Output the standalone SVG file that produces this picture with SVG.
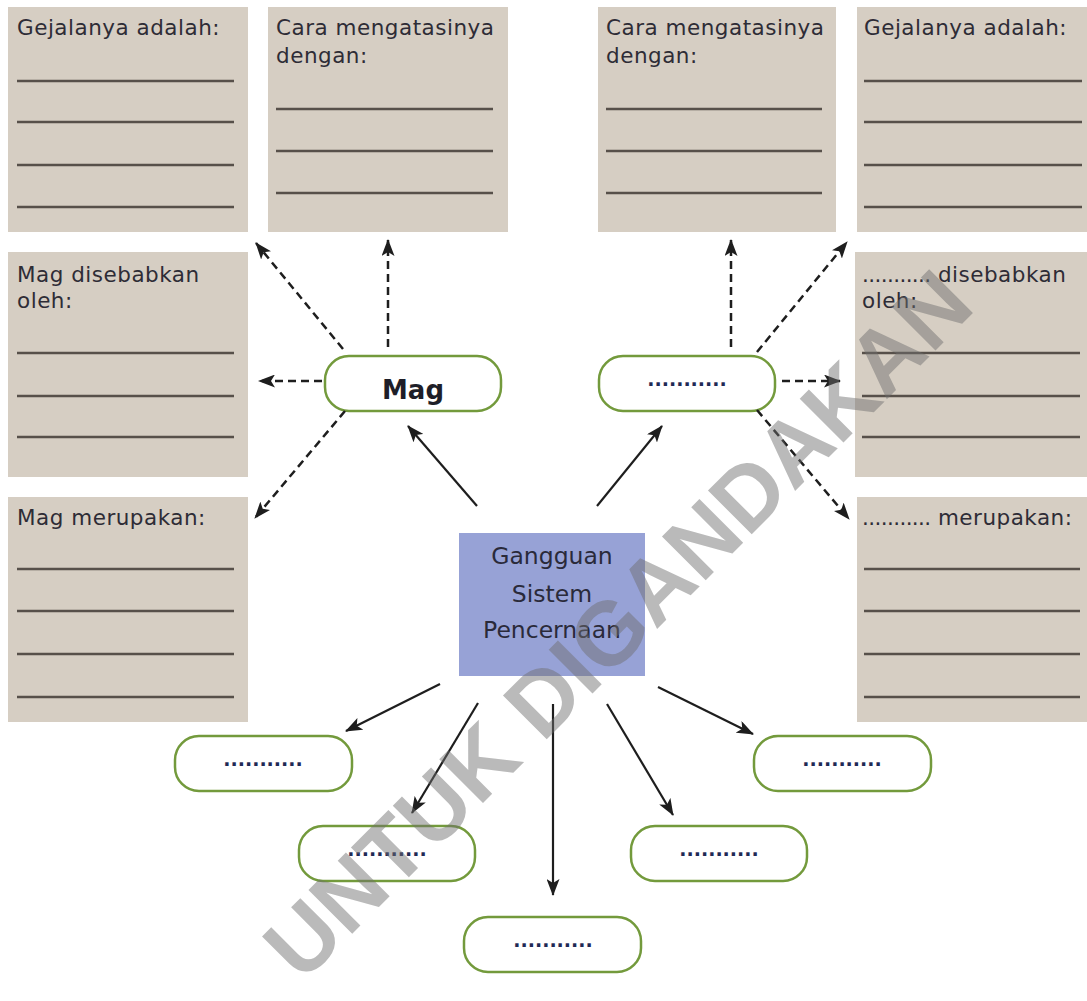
<svg xmlns="http://www.w3.org/2000/svg" width="1087" height="1001" viewBox="0 0 1087 1001">
<defs>
<style>
.box{fill:#d6cec3}
.ln{stroke:#57504a;stroke-width:2.5}
.t{font-family:"DejaVu Sans",Verdana,sans-serif;font-size:21.5px;letter-spacing:0.5px;fill:#2e2c36}
.d{letter-spacing:-0.6px}
.pill{fill:#ffffff;stroke:#739a3c;stroke-width:2.5}
.dots{font-family:"DejaVu Sans",sans-serif;font-weight:bold;font-size:19px;fill:#1f2a55;text-anchor:middle}
.dash{stroke:#1e1e1e;stroke-width:2.5;stroke-dasharray:8 5;fill:none;marker-end:url(#ah)}
.sol{stroke:#1e1e1e;stroke-width:2.2;fill:none;marker-end:url(#ah)}
.ctr{font-family:"DejaVu Sans",sans-serif;font-size:23.5px;fill:#2a2a3a;text-anchor:middle}
.wm{font-family:"Liberation Sans",Arial,sans-serif;font-weight:bold;font-size:90px;fill:#6e6e6e;fill-opacity:0.48}
</style>
<marker id="ah" markerUnits="userSpaceOnUse" markerWidth="17" markerHeight="13" refX="16" refY="6.5" orient="auto">
<path d="M0,0 L17,6.5 L0,13 L4,6.5 z" fill="#1e1e1e"/>
</marker>
</defs>
<rect width="1087" height="1001" fill="#ffffff"/>

<g id="box-gejala-left">
<rect class="box" x="8" y="7" width="240" height="225"/>
<text class="t" x="17" y="35">Gejalanya adalah:</text>
<line class="ln" x1="17" y1="81" x2="234" y2="81"/>
<line class="ln" x1="17" y1="122" x2="234" y2="122"/>
<line class="ln" x1="17" y1="165" x2="234" y2="165"/>
<line class="ln" x1="17" y1="207" x2="234" y2="207"/>
</g>
<g id="box-cara-left">
<rect class="box" x="268" y="7" width="240" height="225"/>
<text class="t" x="276" y="35">Cara mengatasinya</text>
<text class="t" x="276" y="63">dengan:</text>
<line class="ln" x1="276" y1="109" x2="493" y2="109"/>
<line class="ln" x1="276" y1="151" x2="493" y2="151"/>
<line class="ln" x1="276" y1="193" x2="493" y2="193"/>
</g>
<g id="box-cara-right">
<rect class="box" x="598" y="7" width="238" height="225"/>
<text class="t" x="606" y="35">Cara mengatasinya</text>
<text class="t" x="606" y="63">dengan:</text>
<line class="ln" x1="606" y1="109" x2="822" y2="109"/>
<line class="ln" x1="606" y1="151" x2="822" y2="151"/>
<line class="ln" x1="606" y1="193" x2="822" y2="193"/>
</g>
<g id="box-gejala-right">
<rect class="box" x="857" y="7" width="230" height="225"/>
<text class="t" x="864" y="35">Gejalanya adalah:</text>
<line class="ln" x1="864" y1="81" x2="1082" y2="81"/>
<line class="ln" x1="864" y1="122" x2="1082" y2="122"/>
<line class="ln" x1="864" y1="165" x2="1082" y2="165"/>
<line class="ln" x1="864" y1="207" x2="1082" y2="207"/>
</g>
<g id="box-sebab-left">
<rect class="box" x="8" y="252" width="240" height="225"/>
<text class="t" x="17" y="282">Mag disebabkan</text>
<text class="t" x="17" y="308">oleh:</text>
<line class="ln" x1="17" y1="353" x2="234" y2="353"/>
<line class="ln" x1="17" y1="396" x2="234" y2="396"/>
<line class="ln" x1="17" y1="437" x2="234" y2="437"/>
</g>
<g id="box-sebab-right">
<rect class="box" x="855" y="252" width="232" height="225"/>
<text class="t" x="862" y="282"><tspan class="d">...........</tspan> disebabkan</text>
<text class="t" x="862" y="308">oleh:</text>
<line class="ln" x1="862" y1="353" x2="1080" y2="353"/>
<line class="ln" x1="862" y1="396" x2="1080" y2="396"/>
<line class="ln" x1="862" y1="437" x2="1080" y2="437"/>
</g>
<g id="box-merupakan-left">
<rect class="box" x="8" y="497" width="240" height="225"/>
<text class="t" x="17" y="525">Mag merupakan:</text>
<line class="ln" x1="17" y1="569" x2="234" y2="569"/>
<line class="ln" x1="17" y1="611" x2="234" y2="611"/>
<line class="ln" x1="17" y1="654" x2="234" y2="654"/>
<line class="ln" x1="17" y1="697" x2="234" y2="697"/>
</g>
<g id="box-merupakan-right">
<rect class="box" x="857" y="497" width="230" height="225"/>
<text class="t" x="862" y="525"><tspan class="d">...........</tspan> merupakan:</text>
<line class="ln" x1="864" y1="569" x2="1080" y2="569"/>
<line class="ln" x1="864" y1="611" x2="1080" y2="611"/>
<line class="ln" x1="864" y1="654" x2="1080" y2="654"/>
<line class="ln" x1="864" y1="697" x2="1080" y2="697"/>
</g>

<g id="center">
<rect x="459" y="533" width="186" height="143" fill="#97a2d6"/>
<text class="ctr" x="552" y="564">Gangguan</text>
<text class="ctr" x="552" y="602">Sistem</text>
<text class="ctr" x="552" y="638">Pencernaan</text>
</g>

<g id="node-mag">
<rect class="pill" x="325" y="356" width="176" height="55" rx="24"/>
<text x="413" y="399" font-family="DejaVu Sans,sans-serif" font-weight="bold" font-size="26" fill="#1e1e28" text-anchor="middle">Mag</text>
</g>
<g id="node-right">
<rect class="pill" x="599" y="356" width="176" height="55" rx="24"/>
<text class="dots" x="687" y="386">...........</text>
</g>
<g id="node-b1">
<rect class="pill" x="175" y="736" width="177" height="55" rx="24"/>
<text class="dots" x="263" y="766">...........</text>
</g>
<g id="node-b2">
<rect class="pill" x="299" y="826" width="176" height="55" rx="24"/>
<text class="dots" x="387" y="856">...........</text>
</g>
<g id="node-b3">
<rect class="pill" x="464" y="917" width="177" height="55" rx="24"/>
<text class="dots" x="553" y="947">...........</text>
</g>
<g id="node-b4">
<rect class="pill" x="631" y="826" width="176" height="55" rx="24"/>
<text class="dots" x="719" y="856">...........</text>
</g>
<g id="node-b5">
<rect class="pill" x="754" y="736" width="177" height="55" rx="24"/>
<text class="dots" x="842" y="766">...........</text>
</g>

<g id="connectors">
<line class="dash" x1="343" y1="349" x2="256" y2="243"/>
<line class="dash" x1="388" y1="347" x2="388" y2="240"/>
<line class="dash" x1="322" y1="381" x2="259" y2="381"/>
<line class="dash" x1="345" y1="411" x2="255" y2="518"/>
<line class="dash" x1="731" y1="347" x2="731" y2="240"/>
<line class="dash" x1="757" y1="352" x2="847" y2="242"/>
<line class="dash" x1="782" y1="381" x2="840" y2="381"/>
<line class="dash" x1="757" y1="410" x2="849" y2="519"/>
<line class="sol" x1="477" y1="506" x2="408" y2="426"/>
<line class="sol" x1="597" y1="506" x2="662" y2="426"/>
<line class="sol" x1="440" y1="684" x2="346" y2="731"/>
<line class="sol" x1="478" y1="703" x2="412" y2="813"/>
<line class="sol" x1="553" y1="704" x2="553" y2="895"/>
<line class="sol" x1="607" y1="704" x2="673" y2="815"/>
<line class="sol" x1="658" y1="687" x2="753" y2="734"/>
</g>

<text class="wm" transform="translate(302,984) rotate(-45)">UNTUK DIGANDAKAN</text>
</svg>
